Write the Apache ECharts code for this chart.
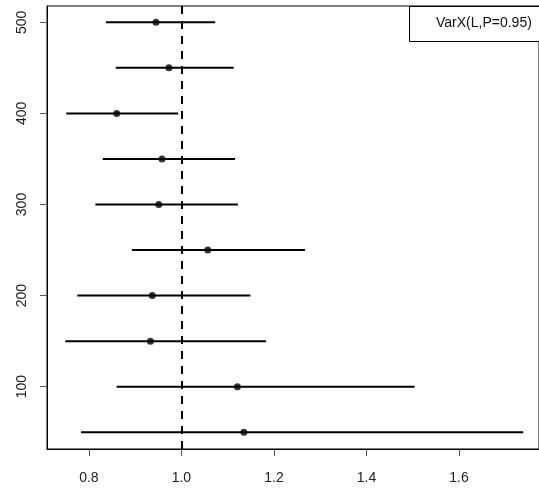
<!DOCTYPE html>
<html>
<head>
<meta charset="utf-8">
<script src="https://cdn.jsdelivr.net/npm/echarts@6/dist/echarts.min.js"></script>
<style>
  html, body { margin: 0; padding: 0; background: #fff; }
  #chartmain { width: 539px; height: 488px; }
</style>
</head>
<body>
<div id="chartmain"></div>
<script>
// sample sizes (y position of each interval)
var sizes = [500, 450, 400, 350, 300, 250, 200, 150, 100, 50];
// point estimates and interval bounds
var est   = [0.945, 0.973, 0.860, 0.958, 0.951, 1.057, 0.937, 0.933, 1.121, 1.135];
var lower = [0.837, 0.858, 0.751, 0.830, 0.814, 0.893, 0.775, 0.749, 0.860, 0.783];
var upper = [1.073, 1.113, 0.993, 1.116, 1.122, 1.267, 1.149, 1.183, 1.504, 1.739];
var xTicks = [0.8, 1.0, 1.2, 1.4, 1.6];
var yTicks = [100, 200, 300, 400, 500];
var refValue = 1.0;
var legendText = 'VarX(L,P=0.95)';

var barData = [];
var dotData = [];
for (var i = 0; i < sizes.length; i++) {
    barData.push([lower[i], upper[i], sizes[i]]);
    dotData.push([est[i], sizes[i]]);
}

var font = 'Liberation Sans, Arial, sans-serif';

var myChart = echarts.init(document.getElementById('chartmain'), null, {renderer: 'canvas'});

var option = {
    animation: false,
    backgroundColor: '#fff',
    grid: {
        left: 47, top: 6, right: -1, bottom: 39,
        show: true, borderColor: '#000', borderWidth: 1
    },
    xAxis: {
        type: 'value',
        min: 0.7094, max: 1.773,
        splitLine: {show: false},
        axisLine: {show: true, lineStyle: {color: '#000', width: 1}},
        axisTick: {show: true, customValues: xTicks, length: 7, lineStyle: {color: '#555'}},
        axisLabel: {
            customValues: xTicks, margin: 22,
            color: '#222', fontSize: 14, fontFamily: font,
            formatter: function (v) { return v.toFixed(1); }
        }
    },
    yAxis: {
        type: 'value',
        min: 31.6, max: 517.9,
        splitLine: {show: false},
        axisLine: {show: true, lineStyle: {color: '#000', width: 1}},
        axisTick: {show: true, customValues: yTicks, length: 7, lineStyle: {color: '#555'}},
        axisLabel: {
            customValues: yTicks, margin: 18, rotate: 90,
            color: '#222', fontSize: 14, fontFamily: font
        }
    },
    graphic: [
        {
            type: 'rect', left: 409, top: 6, z: 100,
            shape: {width: 140, height: 35},
            style: {fill: '#fff', stroke: '#000', lineWidth: 1}
        },
        {
            type: 'text', left: 436, top: 16, z: 101,
            style: {text: legendText, fill: '#111', font: '14px ' + font}
        }
    ],
    series: [
        {
            type: 'custom',
            data: barData,
            encode: {x: [0, 1], y: 2},
            renderItem: function (params, api) {
                var a = api.coord([api.value(0), api.value(2)]);
                var b = api.coord([api.value(1), api.value(2)]);
                return {
                    type: 'line',
                    shape: {x1: a[0], y1: a[1], x2: b[0], y2: b[1]},
                    style: {stroke: '#000', lineWidth: 2}
                };
            },
            markLine: {
                silent: true, symbol: 'none', label: {show: false},
                lineStyle: {color: '#000', width: 2, type: [8, 7]},
                data: [{xAxis: refValue}]
            }
        },
        {
            type: 'scatter',
            data: dotData,
            symbol: 'circle',
            symbolSize: 7,
            itemStyle: {color: '#000'},
            z: 5
        }
    ]
};

myChart.setOption(option);
</script>
</body>
</html>
